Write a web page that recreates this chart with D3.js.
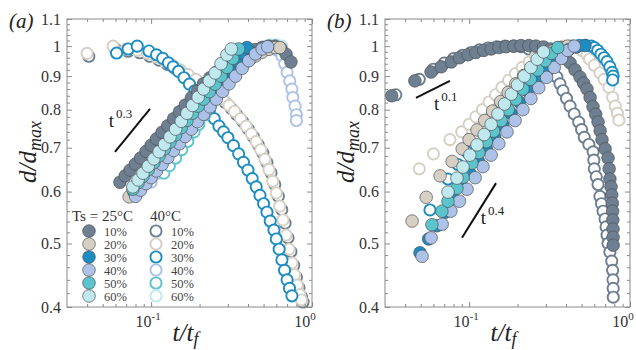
<!DOCTYPE html>
<html><head><meta charset="utf-8">
<script src="https://cdn.jsdelivr.net/npm/d3@7"></script>
<style>body{margin:0;background:#fff} svg{display:block} text{font-family:"Liberation Serif","Times New Roman","DejaVu Serif",serif}</style>
</head><body>
<svg id="chart" width="636" height="350"></svg>
<script>
// ---------- data ----------
const shades = ["10%","20%","30%","40%","50%","60%"];
const colors = ["#6d7f90","#d5cfc4","#1b8dc2","#adc2e8","#5bc4cc","#c0e9ef"];
const yTicks = [0.4,0.5,0.6,0.7,0.8,0.9,1,1.1];
const yTickLabels = ["0.4","0.5","0.6","0.7","0.8","0.9","1","1.1"];
const xTicks = [0.1,1];
const xTickExp = ["-1","0"];
const yMinor = [0.42,0.44,0.46,0.48,0.52,0.54,0.56,0.58,0.62,0.64,0.66,0.68,0.72,0.74,0.76,0.78,0.82,0.84,0.86,0.88,0.92,0.94,0.96,0.98,1.02,1.04,1.06,1.08];
const xMinor = [0.04,0.05,0.06,0.07,0.08,0.09,0.2,0.3,0.4,0.5,0.6,0.7,0.8,0.9];

// panel (a), Ts = 25°C (filled)
const a25_10 = [[0.064,0.62],[0.069,0.634],[0.074,0.647],[0.08,0.661],[0.086,0.675],[0.093,0.691],[0.1,0.706],[0.108,0.722],[0.117,0.739],[0.127,0.756],[0.138,0.775],[0.15,0.794],[0.163,0.813],[0.178,0.834],[0.194,0.855],[0.212,0.876],[0.232,0.895],[0.254,0.912],[0.278,0.928],[0.305,0.942],[0.335,0.955],[0.368,0.967],[0.405,0.978],[0.445,0.988],[0.49,0.995],[0.54,1.0],[0.59,1.0],[0.64,0.993],[0.69,0.972],[0.74,0.946]];
const a25_20 = [[0.073,0.589],[0.079,0.603],[0.085,0.617],[0.092,0.632],[0.1,0.648],[0.108,0.664],[0.117,0.68],[0.127,0.698],[0.138,0.716],[0.15,0.735],[0.163,0.753],[0.178,0.773],[0.194,0.794],[0.212,0.815],[0.232,0.836],[0.254,0.857],[0.278,0.877],[0.305,0.897],[0.335,0.916],[0.368,0.934],[0.405,0.951],[0.445,0.966],[0.49,0.979],[0.54,0.989],[0.59,0.995],[0.63,0.995]];
const a25_30 = [[0.078,0.6],[0.084,0.613],[0.091,0.627],[0.098,0.641],[0.106,0.656],[0.115,0.672],[0.125,0.689],[0.136,0.707],[0.148,0.725],[0.161,0.745],[0.175,0.764],[0.19,0.784],[0.207,0.805],[0.225,0.826],[0.245,0.848],[0.267,0.872],[0.29,0.896],[0.315,0.922],[0.342,0.948],[0.37,0.975],[0.395,0.995]];
const a25_40 = [[0.08,0.59],[0.086,0.603],[0.093,0.617],[0.1,0.63],[0.108,0.645],[0.117,0.66],[0.127,0.676],[0.138,0.693],[0.15,0.71],[0.163,0.728],[0.178,0.747],[0.194,0.767],[0.212,0.787],[0.232,0.808],[0.254,0.83],[0.278,0.853],[0.305,0.876],[0.335,0.9],[0.368,0.925],[0.405,0.95],[0.445,0.973],[0.49,0.99],[0.53,0.998]];
const a25_50 = [[0.077,0.605],[0.083,0.619],[0.089,0.633],[0.096,0.648],[0.104,0.664],[0.112,0.68],[0.121,0.697],[0.131,0.714],[0.142,0.732],[0.154,0.751],[0.167,0.77],[0.181,0.79],[0.196,0.81],[0.212,0.83],[0.23,0.852],[0.25,0.875],[0.272,0.9],[0.296,0.928],[0.322,0.958],[0.35,0.99]];
const a25_60 = [[0.077,0.61],[0.083,0.625],[0.089,0.64],[0.096,0.656],[0.104,0.673],[0.112,0.69],[0.121,0.708],[0.131,0.727],[0.142,0.747],[0.154,0.768],[0.167,0.79],[0.181,0.812],[0.196,0.836],[0.212,0.86],[0.23,0.885],[0.25,0.91],[0.272,0.94],[0.296,0.97],[0.315,0.99]];

// panel (a), 40°C (open)
const a40_10 = [[0.041,0.965],[0.06,0.99],[0.072,0.982],[0.085,0.977],[0.098,0.965],[0.112,0.952],[0.126,0.938],[0.141,0.925],[0.157,0.91],[0.175,0.895],[0.196,0.88],[0.217,0.866],[0.239,0.852],[0.263,0.837],[0.289,0.82],[0.315,0.803],[0.34,0.786],[0.371,0.767],[0.402,0.747],[0.433,0.727],[0.464,0.707],[0.495,0.687],[0.525,0.664],[0.556,0.641],[0.587,0.615],[0.618,0.59],[0.649,0.563],[0.68,0.537],[0.71,0.51],[0.74,0.486],[0.77,0.463],[0.8,0.444],[0.83,0.428],[0.86,0.415],[0.88,0.407]];
const a40_20 = [[0.04,0.975],[0.058,1.0],[0.07,0.99],[0.082,0.985],[0.095,0.975],[0.108,0.962],[0.122,0.948],[0.137,0.935],[0.152,0.92],[0.17,0.905],[0.19,0.89],[0.21,0.877],[0.232,0.862],[0.255,0.847],[0.28,0.83],[0.305,0.812],[0.33,0.795],[0.36,0.775],[0.39,0.755],[0.42,0.735],[0.45,0.715],[0.48,0.695],[0.51,0.672],[0.54,0.648],[0.57,0.622],[0.6,0.597],[0.63,0.57],[0.66,0.543],[0.69,0.515],[0.72,0.49],[0.75,0.467],[0.78,0.448],[0.81,0.432],[0.84,0.418],[0.86,0.41]];
const a40_30 = [[0.061,0.976],[0.072,0.99],[0.082,1.0],[0.097,0.983],[0.108,0.97],[0.118,0.958],[0.128,0.943],[0.137,0.93],[0.148,0.915],[0.16,0.895],[0.173,0.875],[0.187,0.855],[0.2,0.836],[0.215,0.815],[0.23,0.795],[0.247,0.775],[0.264,0.755],[0.282,0.74],[0.3,0.725],[0.325,0.705],[0.35,0.685],[0.375,0.665],[0.4,0.647],[0.425,0.628],[0.45,0.61],[0.475,0.592],[0.5,0.575],[0.525,0.558],[0.55,0.541],[0.58,0.524],[0.6,0.508],[0.625,0.49],[0.65,0.472],[0.675,0.455],[0.7,0.44],[0.725,0.427],[0.75,0.416]];
const a40_40 = [[0.1,0.62],[0.11,0.64],[0.12,0.66],[0.132,0.68],[0.145,0.7],[0.16,0.725],[0.176,0.75],[0.194,0.775],[0.214,0.8],[0.236,0.826],[0.26,0.852],[0.287,0.878],[0.316,0.903],[0.348,0.928],[0.383,0.952],[0.42,0.972],[0.46,0.988],[0.5,0.997],[0.548,1.0],[0.6,0.987],[0.65,0.966],[0.677,0.94],[0.7,0.912],[0.727,0.885],[0.75,0.86],[0.76,0.835],[0.785,0.81],[0.8,0.786],[0.8,0.77]];
const a40_50 = [[0.12,0.64],[0.13,0.657],[0.142,0.675],[0.155,0.695],[0.169,0.716],[0.185,0.74],[0.198,0.76],[0.215,0.785],[0.234,0.81],[0.255,0.836],[0.278,0.862],[0.303,0.887],[0.33,0.912],[0.36,0.936],[0.393,0.958],[0.43,0.977],[0.47,0.99],[0.51,0.998],[0.55,1.0]];
const a40_60 = [[0.098,0.645],[0.104,0.658],[0.109,0.67],[0.116,0.68],[0.124,0.692],[0.133,0.703],[0.144,0.716],[0.157,0.73],[0.171,0.746],[0.186,0.763],[0.203,0.782],[0.222,0.803],[0.243,0.826],[0.266,0.85],[0.292,0.876],[0.32,0.902],[0.35,0.928],[0.385,0.952],[0.42,0.972],[0.46,0.988],[0.5,0.998],[0.55,1.005],[0.6,1.005],[0.65,1.0]];

// panel (b), Ts = 25°C (filled)
const b25_10 = [[0.033,0.84],[0.046,0.885],[0.058,0.913],[0.067,0.93],[0.0775,0.946],[0.087,0.96],[0.0985,0.97],[0.11,0.978],[0.123,0.985],[0.137,0.99],[0.153,0.995],[0.17,0.998],[0.19,1.0],[0.21,1.002],[0.235,1.002],[0.26,1.0],[0.29,0.997],[0.32,0.99],[0.345,0.982],[0.367,0.972],[0.395,0.958],[0.424,0.943],[0.455,0.92],[0.489,0.897],[0.515,0.878],[0.54,0.86],[0.565,0.835],[0.589,0.808],[0.612,0.787],[0.633,0.766],[0.652,0.743],[0.67,0.72],[0.7,0.697],[0.73,0.675],[0.742,0.65],[0.75,0.627],[0.762,0.61],[0.77,0.593],[0.776,0.576],[0.78,0.56],[0.782,0.543],[0.784,0.526],[0.785,0.511],[0.786,0.497]];
const b25_20 = [[0.0442,0.541],[0.0541,0.588],[0.066,0.634],[0.0784,0.667],[0.0906,0.697],[0.1,0.72],[0.112,0.745],[0.125,0.77],[0.14,0.796],[0.157,0.823],[0.175,0.85],[0.195,0.876],[0.218,0.902],[0.243,0.926],[0.27,0.948],[0.3,0.968],[0.333,0.984],[0.37,0.995],[0.41,1.0]];
const b25_30 = [[0.0495,0.484],[0.056,0.508],[0.063,0.532],[0.071,0.558],[0.08,0.585],[0.09,0.612],[0.101,0.64],[0.114,0.668],[0.128,0.697],[0.144,0.727],[0.162,0.758],[0.182,0.79],[0.205,0.822],[0.23,0.855],[0.259,0.887],[0.291,0.918],[0.327,0.946],[0.368,0.97],[0.414,0.987],[0.465,0.997],[0.525,1.002]];
const b25_40 = [[0.051,0.478],[0.058,0.51],[0.068,0.535],[0.077,0.56],[0.087,0.58],[0.097,0.605],[0.109,0.63],[0.122,0.655],[0.137,0.682],[0.153,0.71],[0.172,0.74],[0.193,0.77],[0.216,0.8],[0.242,0.832],[0.271,0.864],[0.303,0.896],[0.338,0.928],[0.375,0.958],[0.41,0.985],[0.45,1.0]];
const b25_50 = [[0.0587,0.534],[0.0677,0.56],[0.0739,0.58],[0.084,0.607],[0.0916,0.631],[0.104,0.663],[0.115,0.688],[0.128,0.715],[0.142,0.742],[0.158,0.77],[0.175,0.8],[0.195,0.83],[0.216,0.86],[0.24,0.89],[0.267,0.92],[0.297,0.95],[0.325,0.975],[0.356,0.995]];
const b25_60 = [[0.0739,0.599],[0.084,0.629],[0.0916,0.654],[0.101,0.682],[0.112,0.707],[0.124,0.733],[0.137,0.76],[0.151,0.788],[0.166,0.816],[0.183,0.845],[0.2,0.873],[0.22,0.9],[0.242,0.928],[0.265,0.955],[0.29,0.98]];

// panel (b), 40°C (open)
const b40_10 = [[0.035,0.843],[0.049,0.89],[0.06,0.922],[0.07,0.942],[0.08,0.957],[0.091,0.968],[0.103,0.978],[0.116,0.987],[0.131,0.993],[0.148,0.998],[0.167,1.0],[0.188,1.0],[0.21,0.998],[0.235,0.99],[0.26,0.978],[0.285,0.96],[0.31,0.94],[0.33,0.918],[0.351,0.897],[0.367,0.876],[0.383,0.855],[0.403,0.832],[0.424,0.81],[0.45,0.788],[0.48,0.766],[0.5,0.746],[0.52,0.726],[0.555,0.708],[0.59,0.69],[0.596,0.67],[0.6,0.65],[0.617,0.632],[0.633,0.615],[0.65,0.59],[0.665,0.575],[0.68,0.56],[0.7,0.545],[0.71,0.53],[0.72,0.515],[0.73,0.5],[0.75,0.485],[0.77,0.47],[0.78,0.455],[0.784,0.44],[0.786,0.427],[0.787,0.414]];
const b40_20 = [[0.049,0.65],[0.06,0.685],[0.076,0.72],[0.09,0.74],[0.1,0.76],[0.11,0.78],[0.121,0.8],[0.133,0.822],[0.146,0.843],[0.16,0.865],[0.176,0.887],[0.194,0.908],[0.214,0.928],[0.236,0.946],[0.26,0.962],[0.287,0.976],[0.317,0.987],[0.35,0.995],[0.386,1.0],[0.425,1.0],[0.46,0.995],[0.5,0.985],[0.54,0.97],[0.56,0.955],[0.6,0.935],[0.65,0.91],[0.69,0.89],[0.74,0.865],[0.78,0.835],[0.81,0.81],[0.835,0.79],[0.853,0.771]];
const b40_30 = [[0.0571,0.5625],[0.0739,0.627],[0.085,0.66],[0.097,0.69],[0.11,0.72],[0.125,0.75],[0.142,0.78],[0.16,0.81],[0.18,0.84],[0.203,0.87],[0.228,0.9],[0.256,0.928],[0.287,0.952],[0.32,0.972],[0.357,0.987],[0.397,0.996],[0.44,1.0],[0.485,1.003],[0.53,1.003],[0.575,1.0],[0.6,0.995],[0.63,0.985],[0.66,0.972],[0.69,0.96],[0.72,0.947],[0.75,0.93],[0.775,0.912],[0.785,0.9],[0.78,0.888]];
const b40_40 = [];
const b40_50 = [];
const b40_60 = [];

// power-law guide lines [t, d] endpoints and label anchors
const guideA = {from:[0.0596,0.69], to:[0.0984,0.802], exp:"0.3", at:[0.0545,0.752]};
const guideB1 = {from:[0.0467,0.834], to:[0.076,0.885], exp:"0.1", at:[0.0605,0.80]};
const guideB2 = {from:[0.0903,0.51], to:[0.147,0.618], exp:"0.4", at:[0.118,0.535]};

// ---------- drawing ----------
const svg = d3.select("#chart");
const frameColor = "#8a8a8a";
const yTop = 19, yBot = 307;

function drawPanel(opt){
  const x = d3.scaleLog().domain([0.03,1]).range([opt.x0, opt.x1]);
  const y = d3.scaleLog().domain([0.4,1.1]).range([yBot, yTop]);
  const g = svg.append("g");

  opt.open.forEach((s,i)=>{
    g.append("g").selectAll("circle").data(s).join("circle")
      .attr("cx",d=>x(d[0])).attr("cy",d=>y(d[1])).attr("r",5.6)
      .attr("fill","#fff").attr("stroke",colors[i]).attr("stroke-width",1.9);
  });
  opt.filled.forEach((s,i)=>{
    g.append("g").selectAll("circle").data(s).join("circle")
      .attr("cx",d=>x(d[0])).attr("cy",d=>y(d[1])).attr("r",6.3)
      .attr("fill",colors[i]).attr("stroke","#4f5358").attr("stroke-width",0.7);
  });

  opt.guides.forEach(gd=>{
    g.append("line").attr("x1",x(gd.from[0])).attr("y1",y(gd.from[1]))
      .attr("x2",x(gd.to[0])).attr("y2",y(gd.to[1]))
      .attr("stroke","#111").attr("stroke-width",2);
    const t = g.append("text").attr("x",x(gd.at[0])).attr("y",y(gd.at[1]))
      .attr("font-size",19).attr("fill","#222").text("t");
    t.append("tspan").attr("dx",2).attr("dy",-9).attr("font-size",13).text(gd.exp);
  });

  g.append("rect").attr("x",opt.x0).attr("y",yTop).attr("width",opt.x1-opt.x0).attr("height",yBot-yTop)
    .attr("fill","none").attr("stroke",frameColor).attr("stroke-width",1);

  const styleAxis = sel => { sel.select(".domain").remove(); sel.selectAll("line").attr("stroke",frameColor); };
  g.append("g").attr("transform",`translate(${opt.x0},0)`)
    .call(d3.axisLeft(y).tickValues(yTicks).tickFormat((d,i)=>yTickLabels[i]).tickSizeInner(-5).tickSizeOuter(0).tickPadding(6))
    .call(styleAxis)
    .call(s=>s.selectAll("text").attr("font-family",null).attr("font-size",16).attr("fill","#333"));
  g.append("g").attr("transform",`translate(${opt.x0},0)`)
    .call(d3.axisLeft(y).tickValues(yMinor).tickFormat("").tickSizeInner(-3).tickSizeOuter(0)).call(styleAxis);
  g.append("g").attr("transform",`translate(${opt.x1},0)`)
    .call(d3.axisRight(y).tickValues(yTicks).tickFormat("").tickSizeInner(-5).tickSizeOuter(0)).call(styleAxis);
  g.append("g").attr("transform",`translate(${opt.x1},0)`)
    .call(d3.axisRight(y).tickValues(yMinor).tickFormat("").tickSizeInner(-3).tickSizeOuter(0)).call(styleAxis);
  g.append("g").attr("transform",`translate(0,${yBot})`)
    .call(d3.axisBottom(x).tickValues(xTicks).tickFormat("").tickSizeInner(-5).tickSizeOuter(0)).call(styleAxis);
  g.append("g").attr("transform",`translate(0,${yBot})`)
    .call(d3.axisBottom(x).tickValues(xMinor).tickFormat("").tickSizeInner(-3).tickSizeOuter(0)).call(styleAxis);
  g.append("g").attr("transform",`translate(0,${yTop})`)
    .call(d3.axisTop(x).tickValues(xTicks).tickFormat("").tickSizeInner(-5).tickSizeOuter(0)).call(styleAxis);
  g.append("g").attr("transform",`translate(0,${yTop})`)
    .call(d3.axisTop(x).tickValues(xMinor).tickFormat("").tickSizeInner(-3).tickSizeOuter(0)).call(styleAxis);
  xTicks.forEach((v,i)=>{
    const shift = v === 1 ? -7 : -3;
    const t = g.append("text").attr("x",x(v)+shift).attr("y",yBot+20).attr("text-anchor","middle")
      .attr("font-size",16).attr("fill","#333").text("10");
    t.append("tspan").attr("dy",-7).attr("font-size",11).text(xTickExp[i]);
  });

  g.append("text").attr("x",opt.x0-58).attr("y",28).attr("font-style","italic")
    .attr("font-size",21).attr("fill","#222").text(opt.label);

  const yl = g.append("text").attr("transform",`translate(${opt.x0-31},152) rotate(-90)`).attr("text-anchor","middle")
    .attr("font-style","italic").attr("font-size",25).attr("fill","#222");
  yl.append("tspan").text("d/d");
  yl.append("tspan").attr("dy",5).attr("font-size",18).text("max");
  const xl = g.append("text").attr("x",(opt.x0+opt.x1)/2 - 4).attr("y",yBot+34).attr("text-anchor","middle")
    .attr("font-style","italic").attr("font-size",25).attr("fill","#222");
  xl.append("tspan").text("t/t");
  xl.append("tspan").attr("dy",4).attr("font-size",18).text("f");
  return {x,y};
}

drawPanel({x0:67, x1:312, label:"(a)",
  filled:[a25_10,a25_20,a25_30,a25_40,a25_50,a25_60],
  open:[a40_10,a40_20,a40_30,a40_40,a40_50,a40_60],
  guides:[guideA]});
drawPanel({x0:385, x1:630, label:"(b)",
  filled:[b25_10,b25_20,b25_30,b25_40,b25_50,b25_60],
  open:[b40_10,b40_20,b40_30,b40_40,b40_50,b40_60],
  guides:[guideB1,guideB2]});

// legend (panel a)
const lg = svg.append("g");
lg.append("text").attr("x",72).attr("y",221).attr("font-size",15).attr("fill","#333").text("Ts = 25°C");
lg.append("text").attr("x",150).attr("y",221).attr("font-size",15).attr("fill","#333").text("40°C");
shades.forEach((s,i)=>{
  const cy = 231 + i*13;
  lg.append("circle").attr("cx",89).attr("cy",cy).attr("r",6.3).attr("fill",colors[i]).attr("stroke","#4f5358").attr("stroke-width",0.7);
  lg.append("text").attr("x",104).attr("y",cy+4.5).attr("font-size",12.5).attr("fill","#444").text(s);
  lg.append("circle").attr("cx",156).attr("cy",cy).attr("r",5.6).attr("fill","#fff").attr("stroke",colors[i]).attr("stroke-width",1.9);
  lg.append("text").attr("x",171).attr("y",cy+4.5).attr("font-size",12.5).attr("fill","#444").text(s);
});
</script>
</body></html>
